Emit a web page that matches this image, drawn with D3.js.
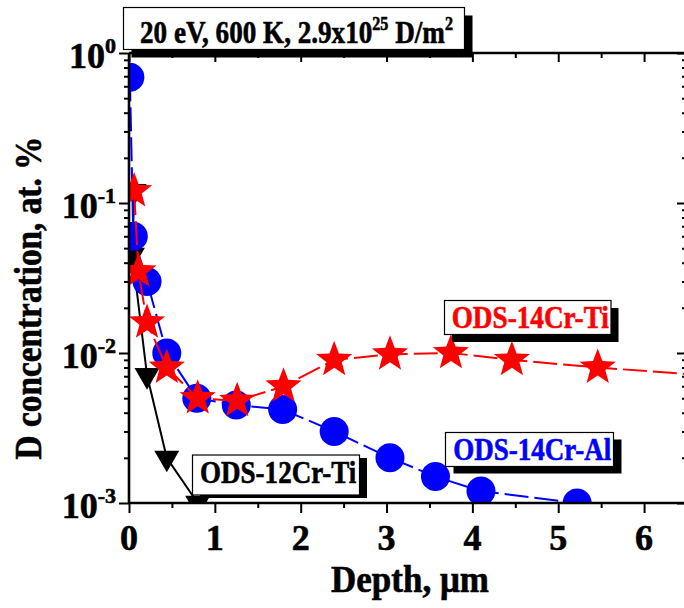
<!DOCTYPE html>
<html><head><meta charset="utf-8">
<script src="https://cdn.jsdelivr.net/npm/d3@7"></script>
<style>body{margin:0;background:#fff} svg{display:block}</style>
</head><body>
<svg id="c" width="684" height="608"></svg>
<script>
// ---- data ----
const xTickValues = [0,1,2,3,4,5,6];
const xMinorValues = [0.5,1.5,2.5,3.5,4.5,5.5,6.5];
const yTickExponents = [0,-1,-2,-3];
const seriesNames = ["ODS-14Cr-Al","ODS-14Cr-Ti","ODS-12Cr-Ti"];
const alDepth = [0.01,0.05,0.21,0.44,0.79,1.25,1.79,2.39,3.04,3.57,4.10,5.22,7.0];
const alConc  = [0.69,0.06,0.03,0.01,0.005,0.0045,0.0042,0.003,0.002,0.0015,0.0012,0.001,0.001];
const tiDepth = [0.06,0.11,0.21,0.44,0.80,1.26,1.80,2.39,3.04,3.75,4.46,5.46,7.0];
const tiConc  = [0.12,0.035,0.016,0.008,0.005,0.0048,0.006,0.009,0.0098,0.01,0.009,0.008,0.0069];
const cr12Depth = [0.06,0.04,0.21,0.44,0.80];
const cr12Conc  = [0.12,0.045,0.0071,0.002,0.001];
const titleParts = ["20 eV, 600 K, 2.9x10","25"," D/m","2"];
const xLabel = "Depth, \u03bcm";
const yLabel = "D concentration, at. %";

// ---- layout ----
const m = {l:129, r:687, t:53, b:503};
const FONT = "'Liberation Serif','Times New Roman',serif";
const svg = d3.select('#c');
const x = d3.scaleLinear().domain([0,6.5]).range([m.l,m.r]);
const y = d3.scaleLog().domain([1e-3,1]).range([m.b,m.t]);

svg.append('defs').append('clipPath').attr('id','clip')
  .append('rect').attr('x',m.l).attr('y',m.t).attr('width',m.r-m.l).attr('height',m.b-m.t);

function fitWidth(sel, x0, target){
  const w = sel.node().getBBox().width;
  const s = target / w;
  sel.attr('transform', `translate(${x0},0) scale(${s},1) translate(${-x0},0)`);
}
function heavy(sel, color){ return sel.attr('stroke',color).attr('stroke-width',0.6); }

// ---- axes ticks ----
const yMajor = yTickExponents.map(e => Math.pow(10,e));
const yMinor = y.ticks().filter(v => !yMajor.some(M => Math.abs(M-v)/v < 1e-6));
function styleAxis(g){
  g.select('.domain').remove();
  g.selectAll('.tick line').attr('stroke','#000').attr('stroke-width',2);
  g.selectAll('.tick text').remove();
}
const axes = svg.append('g');
axes.append('g').attr('transform',`translate(0,${m.b})`).call(d3.axisBottom(x).tickValues(xTickValues).tickSize(10)).call(styleAxis);
axes.append('g').attr('transform',`translate(0,${m.b})`).call(d3.axisBottom(x).tickValues(xMinorValues).tickSize(5)).call(styleAxis);
axes.append('g').attr('transform',`translate(0,${m.t})`).call(d3.axisBottom(x).tickValues(xTickValues).tickSize(9)).call(styleAxis);
axes.append('g').attr('transform',`translate(0,${m.t})`).call(d3.axisBottom(x).tickValues(xMinorValues).tickSize(5)).call(styleAxis);
axes.append('g').attr('transform',`translate(${m.l},0)`).call(d3.axisLeft(y).tickValues(yMajor).tickSize(10)).call(styleAxis);
axes.append('g').attr('transform',`translate(${m.l},0)`).call(d3.axisLeft(y).tickValues(yMinor).tickSize(5)).call(styleAxis);
axes.append('g').attr('transform',`translate(${m.r},0)`).call(d3.axisLeft(y).tickValues(yMajor).tickSize(10)).call(styleAxis);
axes.append('g').attr('transform',`translate(${m.r},0)`).call(d3.axisLeft(y).tickValues(yMinor).tickSize(5)).call(styleAxis);

// ---- series ----
const plot = svg.append('g').attr('clip-path','url(#clip)');
const line = d3.line().x(d=>x(d[0])).y(d=>y(d[1]));
function zip(a,b){return a.map((v,i)=>[v,b[i]]);}
const cr12 = zip(cr12Depth,cr12Conc), al = zip(alDepth,alConc), ti = zip(tiDepth,tiConc);

function starPath(R){
  const r = R*0.42, pts=[];
  for(let i=0;i<10;i++){
    const a = -Math.PI/2 + i*Math.PI/5, rr = i%2?r:R;
    pts.push([rr*Math.cos(a), rr*Math.sin(a)]);
  }
  return 'M'+pts.map(p=>p.join(',')).join('L')+'Z';
}
const triDown = (()=>{const s=25,h=s*Math.sqrt(3)/2;return `M${-s/2},${-h/3}L${s/2},${-h/3}L0,${2*h/3}Z`;})();

// black
plot.append('path').datum(cr12).attr('d',line).attr('fill','none').attr('stroke','#000').attr('stroke-width',2);
plot.selectAll('.tri').data(cr12).join('path').attr('d',triDown)
  .attr('transform',d=>`translate(${x(d[0])},${y(d[1])})`).attr('fill','#000');
// blue
plot.append('path').datum(al).attr('d',line).attr('fill','none').attr('stroke','#0000ff').attr('stroke-width',2).attr('stroke-dasharray','24,6');
plot.selectAll('.circ').data(al).join('circle').attr('cx',d=>x(d[0])).attr('cy',d=>y(d[1])).attr('r',14.5).attr('fill','#0000ff');
// red
plot.append('path').datum(ti).attr('d',line).attr('fill','none').attr('stroke','#ff0000').attr('stroke-width',2).attr('stroke-dasharray','24,6');
plot.selectAll('.star').data(ti).join('path').attr('d',starPath(19))
  .attr('transform',d=>`translate(${x(d[0])},${y(d[1])})`).attr('fill','#ff0000');

// ---- frame ----
const frame = svg.append('g').attr('stroke','#000').attr('stroke-width',2.6);
frame.append('line').attr('x1',m.l).attr('x2',m.r).attr('y1',m.b).attr('y2',m.b);
frame.append('line').attr('x1',m.l).attr('x2',m.r).attr('y1',m.t).attr('y2',m.t);
frame.append('line').attr('x1',m.l).attr('x2',m.l).attr('y1',m.t).attr('y2',m.b);
frame.append('line').attr('x1',m.r).attr('x2',m.r).attr('y1',m.t).attr('y2',m.b);

// ---- tick labels ----
svg.append('g').selectAll('text').data(xTickValues).join('text')
  .attr('x',d=>x(d)).attr('y',550).attr('text-anchor','middle')
  .attr('font-family',FONT).attr('font-weight','bold').attr('font-size',36).call(heavy,'#000').text(d=>d);
const yl = svg.append('g').selectAll('text').data(yTickExponents).join('text')
  .attr('x',116).attr('y',d=>y(Math.pow(10,d))+15).attr('text-anchor','end')
  .attr('font-family',FONT).attr('font-weight','bold').attr('font-size',36).call(heavy,'#000');
yl.append('tspan').text('10');
yl.append('tspan').attr('dy',-15).attr('font-size',22).text(d=>d);

// ---- axis titles ----
const xt = svg.append('text').attr('x',410).attr('y',592).attr('text-anchor','middle')
  .attr('font-family',FONT).attr('font-weight','bold').attr('font-size',37).call(heavy,'#000').text(xLabel);
fitWidth(xt, 410, 158);
const ytG = svg.append('g').attr('transform','translate(41,298) rotate(-90)');
const yt = ytG.append('text').attr('x',0).attr('y',0).attr('text-anchor','middle')
  .attr('font-family',FONT).attr('font-weight','bold').attr('font-size',38).call(heavy,'#000').text(yLabel);
fitWidth(yt, 0, 323);

// ---- annotation boxes ----
function box(x0,y0,w,h,dx,dy){
  svg.append('rect').attr('x',x0+dx).attr('y',y0+dy).attr('width',w).attr('height',h).attr('fill','#000');
  svg.append('rect').attr('x',x0).attr('y',y0).attr('width',w).attr('height',h).attr('fill','#fff').attr('stroke','#000').attr('stroke-width',1.2);
}
function label(txt,color,x0,base,w){
  const t = svg.append('text').attr('x',x0).attr('y',base).attr('font-family',FONT).attr('font-weight','bold')
    .attr('font-size',31).attr('fill',color).call(heavy,color).text(txt);
  fitWidth(t,x0,w);
}
// title box
box(123.5,7.5,341,42,8,8);
const tt = svg.append('text').attr('x',140).attr('y',43.5).attr('font-family',FONT).attr('font-weight','bold').attr('font-size',32).attr('fill','#000').call(heavy,'#000');
tt.append('tspan').text(titleParts[0]);
tt.append('tspan').attr('dy',-13).attr('font-size',19).text(titleParts[1]);
tt.append('tspan').attr('dy',13).text(titleParts[2]);
tt.append('tspan').attr('dy',-13).attr('font-size',19).text(titleParts[3]);
fitWidth(tt,140,313);

box(444.5,300.5,166.5,34,7.5,7.5);
label(seriesNames[1],'#ff0000',451.7,327.7,157.6);
box(445.5,432.5,168,34,8,7);
label(seriesNames[0],'#0000ff',453.3,460,158.4);
box(192.5,455,167,40,7.5,3);
label(seriesNames[2],'#000',200,483.3,156.7);
</script>
</body></html>
